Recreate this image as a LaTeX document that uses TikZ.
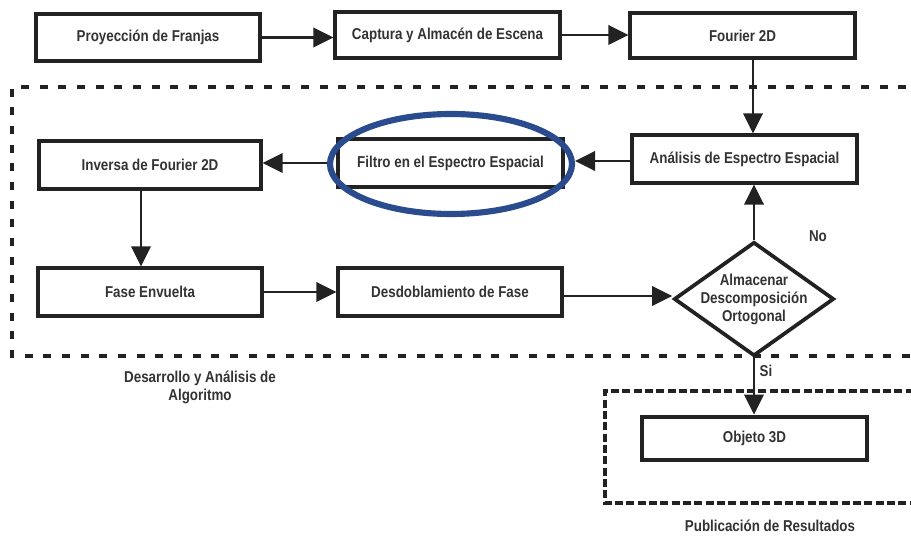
\documentclass[tikz,border=0pt]{standalone}
\usepackage{fontspec}
\setmainfont{Liberation Sans}[FakeStretch=0.85]
\usetikzlibrary{arrows.meta,shapes.geometric}
\definecolor{txt}{HTML}{333333}
\definecolor{edge}{HTML}{222222}
\definecolor{oval}{HTML}{2A4B8D}
\tikzset{
  box/.style={draw=edge, line width=2.4pt, fill=white, minimum width=#1*0.75pt, inner sep=0pt, text=txt, font=\bfseries\fontsize{11.8}{14}\selectfont},
  arr/.style={draw=edge, line width=2.1pt, -{Triangle[length=15pt,width=14.5pt]}},
  zone/.style={draw=edge, line width=2.6pt, dash pattern=on 6pt off 8pt},
  zonetwo/.style={draw=edge, line width=2.6pt, dash pattern=on 6pt off 2.5pt},
  lbl/.style={text=txt, font=\bfseries\fontsize{11.8}{13.5}\selectfont, align=center}
}
\begin{document}
\begin{tikzpicture}[x=0.75pt,y=-0.75pt]
\useasboundingbox (0,0) rectangle (911,538);
\clip (0,0) rectangle (911,538);
% zones
\draw[zone] (925,87) -- (12,87) -- (12,356) -- (925,356);
\draw[zonetwo] (925,391) -- (605,391) -- (605,503) -- (925,503);
% boxes
\node[box=224, minimum height=47*0.75pt] (proy) at (148,37.5) {Proyección de Franjas};
\node[box=225, minimum height=46*0.75pt] (capt) at (447.5,35) {Captura y Almacén de Escena};
\node[box=225, minimum height=45*0.75pt] (four) at (742.5,35.5) {Fourier 2D};
\node[box=225, minimum height=48*0.75pt] (anal) at (744.5,159) {Análisis de Espectro Espacial};
\node[box=225, minimum height=48*0.75pt] (filt) at (450.5,163) {Filtro en el Espectro Espacial};
\node[draw=oval, line width=4.6pt, ellipse, minimum width=242*0.75pt, minimum height=100*0.75pt, inner sep=0pt] (ell) at (451,164) {};
\node[box=222, minimum height=48*0.75pt] (inv) at (150,165) {Inversa de Fourier 2D};
\node[box=224, minimum height=48*0.75pt] (fase) at (150,292) {Fase Envuelta};
\node[box=224, minimum height=48*0.75pt] (desd) at (450,292) {Desdoblamiento de Fase};
\node[diamond, draw=edge, line width=2.8pt, fill=white, minimum width=160*0.75pt, minimum height=114*0.75pt, inner sep=0pt] (dec) at (754,299) {};
\node[lbl] (dectxt) at (754,299) {Almacenar\\Descomposición\\Ortogonal};
\node[box=225, minimum height=43*0.75pt, line width=3.6pt] (obj) at (754.5,438.5) {Objeto 3D};
% arrows
\draw[arr] (proy.east) -- (capt.west |- proy.east);
\draw[arr] (capt.east) -- (four.west |- capt.east);
\draw[arr] (four.south -| 753,0) -- (anal.north -| 753,0);
\draw[arr] (anal.west |- 0,161) -- (ell.east |- 0,161);
\draw[arr] (ell.west |- 0,163) -- (inv.east |- 0,163);
\draw[arr] (inv.south -| 141,0) -- (fase.north -| 141,0);
\draw[arr] (fase.east) -- (desd.west);
\draw[arr] (desd.east |- 0,296) -- (dec.west |- 0,296);
\draw[arr] (dec.north) -- (anal.south -| dec.north);
\draw[arr] (dec.south) -- (obj.north -| dec.south);
% labels
\node[lbl] (no) at (818,236) {No};
\node[lbl] (si) at (766,371) {Si};
\node[lbl] (zone1) at (200,387) {Desarrollo y Análisis de\\Algoritmo};
\node[lbl] (zone2) at (770,526) {Publicación de Resultados};
\end{tikzpicture}
\end{document}
